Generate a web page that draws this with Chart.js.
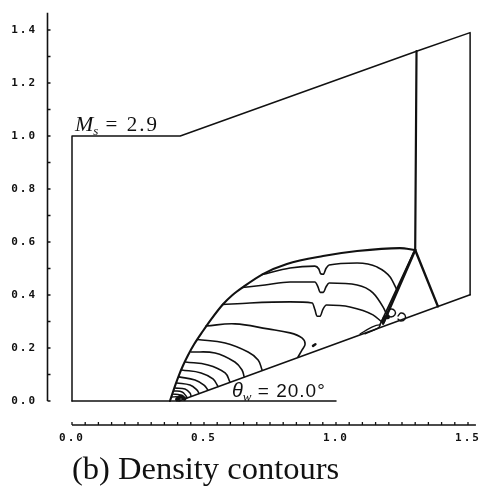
<!DOCTYPE html>
<html><head><meta charset="utf-8">
<script src="https://cdn.jsdelivr.net/npm/chart.js@4.4.1/dist/chart.umd.min.js"></script>
<style>html,body{margin:0;padding:0;background:#fff}#wrap{width:483px;height:495px}</style>
</head><body><div id="wrap"><canvas id="c" width="483" height="495"></canvas></div>
<script>
// ---- tick labels ----
const xTickLabels = [0.0, 0.5, 1.0, 1.5];
const yTickLabels = [0.0, 0.2, 0.4, 0.6, 0.8, 1.0, 1.2, 1.4];
const xMinorTicks = [0.0,0.05,0.1,0.15,0.2,0.25,0.3,0.35,0.4,0.45,0.5,0.55,0.6,0.65,0.7,0.75,0.8,0.85,0.9,0.95,1.0,1.05,1.1,1.15,1.2,1.25,1.3,1.35,1.4,1.45,1.5];
const yMinorTicks = [0.0,0.1,0.2,0.3,0.4,0.5,0.6,0.7,0.8,0.9,1.0,1.1,1.2,1.3,1.4];
const xAxisSpan = [0.0, 1.53];
const yAxisSpan = [0.0, 1.465];

// ---- domain & shocks ----
const domainOutline = [[0.0,0.0],[0.0,1.0],[0.41,1.0],[1.305,1.32],[1.508,1.39],[1.508,0.401]];
const groundLine = [[0.0,0.0],[1.0,0.0]];
const wedgeSurface = [[0.405,0.0],[1.508,0.401]];
const incidentShock = [[1.305,1.32],[1.300,0.570]];
const machStem = [[1.300,0.570],[1.386,0.357]];
const slipLine1 = [[1.300,0.570],[1.178,0.292]];
const slipLine2 = [[1.294,0.560],[1.167,0.289]];
const reflectedShock = [[0.371,0.000],[0.381,0.030],[0.392,0.062],[0.405,0.097],[0.421,0.135],[0.439,0.172],[0.462,0.213],[0.496,0.264],[0.527,0.308],[0.572,0.365],[0.608,0.400],[0.648,0.430],[0.723,0.479],[0.814,0.517],[0.951,0.547],[1.080,0.566],[1.242,0.577],[1.300,0.570]];

// ---- density contours ----
const contourA = [[0.720,0.477],[0.826,0.502],[0.920,0.509],[0.935,0.498],[0.942,0.480],[0.952,0.478],[0.962,0.500],[0.974,0.513],[1.080,0.521],[1.155,0.506],[1.205,0.468],[1.231,0.419]];
const contourB = [[0.645,0.428],[0.731,0.438],[0.826,0.449],[0.920,0.449],[0.932,0.430],[0.940,0.410],[0.952,0.410],[0.962,0.430],[0.974,0.445],[1.080,0.438],[1.140,0.408],[1.178,0.355],[1.193,0.325]];
const contourC = [[0.570,0.364],[0.674,0.370],[0.826,0.374],[0.910,0.370],[0.920,0.345],[0.928,0.320],[0.940,0.320],[0.950,0.345],[0.964,0.362],[1.053,0.355],[1.140,0.325],[1.174,0.298]];
const contourD = [[0.508,0.283],[0.617,0.291],[0.742,0.272],[0.826,0.257],[0.871,0.238],[0.883,0.215],[0.871,0.192],[0.856,0.166]];
const contourE = [[0.475,0.232],[0.580,0.219],[0.667,0.185],[0.705,0.155],[0.720,0.117]];
const contourF = [[0.451,0.185],[0.542,0.181],[0.617,0.147],[0.644,0.117],[0.652,0.092]];
const contourG = [[0.430,0.147],[0.515,0.136],[0.580,0.106],[0.598,0.072]];
const contourH = [[0.415,0.117],[0.489,0.106],[0.534,0.083],[0.553,0.055]];
const contourI = [[0.405,0.091],[0.466,0.079],[0.500,0.060],[0.515,0.041]];
const contourJ = [[0.397,0.068],[0.447,0.060],[0.473,0.042],[0.481,0.029]];
const contourK = [[0.391,0.049],[0.428,0.045],[0.447,0.030],[0.451,0.018]];
const contourL = [[0.386,0.038],[0.417,0.034],[0.432,0.019],[0.436,0.012]];
const contourM = [[0.381,0.026],[0.409,0.023],[0.417,0.011],[0.420,0.006]];
const contourN = [[0.377,0.015],[0.402,0.015],[0.409,0.006]];
const cornerBlob = [[0.398,0.006],[0.413,0.018],[0.426,0.008]];
const vortexBlob = [[1.178,0.300],[1.186,0.315],[1.197,0.316]];
const vortexLoop1 = [[1.197,0.336],[1.208,0.347],[1.223,0.340],[1.223,0.325],[1.208,0.317],[1.197,0.325],[1.197,0.336]];
const vortexLoop2 = [[1.235,0.321],[1.246,0.332],[1.261,0.325],[1.261,0.309],[1.246,0.302],[1.235,0.309]];
const wallContour = [[1.091,0.253],[1.136,0.279],[1.167,0.287],[1.159,0.275],[1.110,0.253]];
const smallIsland = [[0.913,0.208],[0.922,0.214]];

// ---- labels ----
const machLabel = {pos:[0.011,1.019], sym:'M', sub:'s', rest:' = 2.9'};
const wedgeLabel = {pos:[0.606,0.015], sym:'θ', sub:'w', rest:' = 20.0°'};
const captionText = '(b) Density contours';

const INK = '#111';
function line(pts, width, tension, mono){
  return {data: pts.map(([x,y])=>({x,y})), showLine:true, borderColor:INK, backgroundColor:INK,
    borderWidth:width, pointRadius:0, tension:tension||0, cubicInterpolationMode: mono ? 'monotone' : 'default',
    fill:false, borderJoinStyle:'round', borderCapStyle:'round'};
}

const datasets = [
  line(domainOutline,1.5), line(groundLine,1.5), line(wedgeSurface,1.6),
  line(incidentShock,2.2), line(machStem,2.4), line(slipLine1,2.6), line(slipLine2,1.6),
  line(reflectedShock,2.1,0.4,true),
  line(contourA,1.6,0.4,true), line(contourB,1.6,0.4,true), line(contourC,1.6,0.4,true),
  line(contourD,1.6,0.4), line(contourE,1.6,0.4), line(contourF,1.6,0.4), line(contourG,1.6,0.4),
  line(contourH,1.6,0.4), line(contourI,1.6,0.4), line(contourJ,1.6,0.4), line(contourK,1.5,0.4),
  line(contourL,1.5,0.4), line(contourM,1.4,0.4), line(contourN,1.4,0.4),
  line(cornerBlob,4,0.3), line(vortexBlob,4,0.3), line(vortexLoop1,1.4,0.4), line(vortexLoop2,1.4,0.4),
  line(wallContour,1.3,0.3), line(smallIsland,2.5,0)
];

const decoPlugin = {
  id:'deco',
  beforeDraw(chart){ chart.ctx.letterSpacing = '2px'; },
  beforeDatasetsDraw(chart){
    const {ctx, chartArea, scales:{x,y}} = chart;
    ctx.save(); ctx.letterSpacing='0px';
    ctx.strokeStyle=INK; ctx.lineWidth=1.6;
    const ax = chartArea.left + 0.5, ay = chartArea.bottom;
    ctx.beginPath();
    ctx.moveTo(ax, y.getPixelForValue(yAxisSpan[0])); ctx.lineTo(ax, y.getPixelForValue(yAxisSpan[1]));
    ctx.moveTo(x.getPixelForValue(xAxisSpan[0]), ay); ctx.lineTo(x.getPixelForValue(xAxisSpan[1]), ay);
    ctx.stroke();
    ctx.lineWidth=1.3; ctx.beginPath();
    yMinorTicks.forEach(v=>{const p=y.getPixelForValue(v); ctx.moveTo(ax,p); ctx.lineTo(ax+3,p);});
    xMinorTicks.forEach(v=>{const p=x.getPixelForValue(v); ctx.moveTo(p,ay); ctx.lineTo(p,ay-3);});
    ctx.stroke(); ctx.restore();
  },
  afterDraw(chart){
    const {ctx, scales:{x,y}} = chart;
    ctx.save(); ctx.fillStyle=INK; ctx.textBaseline='alphabetic'; ctx.textAlign='left';
    function sub(lbl, symFont, restFont, restSpacing){
      let px = x.getPixelForValue(lbl.pos[0]), py = y.getPixelForValue(lbl.pos[1]);
      ctx.letterSpacing='0px';
      ctx.font = symFont; ctx.fillText(lbl.sym, px, py); px += ctx.measureText(lbl.sym).width;
      ctx.font = 'italic 13px "Liberation Serif"'; ctx.fillText(lbl.sub, px, py+4); px += ctx.measureText(lbl.sub).width;
      ctx.letterSpacing=restSpacing;
      ctx.font = restFont; ctx.fillText(lbl.rest, px, py);
    }
    sub(machLabel, 'italic 22px "Liberation Serif"', '21px "Liberation Serif"', '2px');
    sub(wedgeLabel, 'italic 20px "Liberation Sans"', '19px "Liberation Sans"', '1px');
    ctx.letterSpacing='0px';
    ctx.font = '32.5px "Liberation Serif"';
    ctx.fillText(captionText, x.getPixelForValue(0), 479);
    ctx.restore();
  }
};

const tickFont = {family:'"DejaVu Sans Mono"', size:11, weight:'bold'};
new Chart(document.getElementById('c'), {
  type:'scatter',
  data:{datasets},
  options:{
    responsive:false, animation:false, events:[],
    layout:{padding:{top:8,right:5,left:0,bottom:0}},
    plugins:{legend:{display:false}, tooltip:{enabled:false}, title:{display:false}},
    scales:{
      x:{type:'linear', min:-0.0947, max:1.5379,
        afterFit(s){ s.height = 70; s.paddingLeft = 0; s.paddingRight = 0; },
        afterBuildTicks(s){ s.ticks = xTickLabels.map(v=>({value:v})); },
        grid:{display:false, drawTicks:false}, border:{display:false},
        ticks:{font:tickFont, color:INK, padding:7, maxRotation:0, autoSkip:false, callback:v=>Number(v).toFixed(1)}},
      y:{type:'linear', min:-0.0906, max:1.4830,
        afterFit(s){ s.width = 47; s.paddingTop = 0; s.paddingBottom = 0; },
        afterBuildTicks(s){ s.ticks = yTickLabels.map(v=>({value:v})); },
        grid:{display:false, drawTicks:false}, border:{display:false},
        ticks:{font:tickFont, color:INK, padding:10, autoSkip:false, callback:v=>Number(v).toFixed(1)}}
    }
  },
  plugins:[decoPlugin]
});
</script></body></html>
